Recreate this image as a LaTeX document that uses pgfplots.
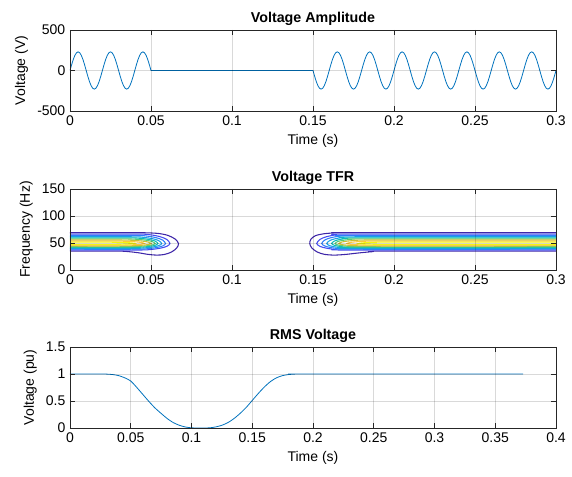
\documentclass[border=0pt]{standalone}
\usepackage{pgfplots}
\pgfplotsset{compat=1.18}
\usepackage{fontspec}
\setmainfont{Liberation Sans}

\definecolor{mline}{rgb}{0,0.447,0.741}
\definecolor{pa}{rgb}{0.2422,0.1504,0.6603}
\definecolor{pb}{rgb}{0.2706,0.3033,0.9415}
\definecolor{pc}{rgb}{0.1829,0.5023,0.9805}
\definecolor{pd}{rgb}{0.10,0.63,0.90}
\definecolor{pe}{rgb}{0.05,0.74,0.72}
\definecolor{pf}{rgb}{0.35,0.80,0.45}
\definecolor{pg}{rgb}{0.80,0.75,0.20}
\definecolor{ph}{rgb}{0.99,0.78,0.23}
\definecolor{pi}{rgb}{0.96,0.96,0.07}

\pgfplotsset{
  matlab/.style={
    scale only axis,
    width=364.5pt, height=60.75pt,
    axis on top,
    axis line style={black!85, line width=0.4pt},
    tick style={black!85, line width=0.4pt},
    major tick length=3.6pt,
    tick align=inside,
    grid=major,
    grid style={black, opacity=0.15, line width=0.4pt},
    tick label style={font=\fontsize{10.5}{12}\selectfont},
    label style={font=\fontsize{10.5}{12}\selectfont},
    title style={font=\fontsize{10.7}{12}\selectfont\bfseries, yshift=-6.2pt},
    /pgf/number format/assume math mode=true,
  },
  cont/.style={line width=0.8pt, smooth, tension=0.5, no marks},
}

\begin{document}
\begin{tikzpicture}
\path[use as bounding box] (0,0) rectangle (429pt,357.75pt);

% --- Voltage amplitude
\begin{axis}[matlab,
  at={(52.5pt,274.5pt)}, anchor=south west,
  xmin=0, xmax=0.3, ymin=-500, ymax=500,
  xtick={0,0.05,0.1,0.15,0.2,0.25,0.3},
  xticklabels={0,0.05,0.1,0.15,0.2,0.25,0.3},
  ytick={-500,0,500}, yticklabels={-500,0,500},
  title={Voltage Amplitude},
  xlabel={Time (s)}, ylabel={Voltage (V)},
]
\addplot[mline, line width=0.6pt, no marks] coordinates {
(0.000,0) (0.001,71.1) (0.002,135.2) (0.003,186.1) (0.004,218.7) (0.005,230) (0.006,218.7) (0.007,186.1) (0.008,135.2) (0.009,71.1)
(0.010,0) (0.011,-71.1) (0.012,-135.2) (0.013,-186.1) (0.014,-218.7) (0.015,-230) (0.016,-218.7) (0.017,-186.1) (0.018,-135.2) (0.019,-71.1)
(0.020,0) (0.021,71.1) (0.022,135.2) (0.023,186.1) (0.024,218.7) (0.025,230) (0.026,218.7) (0.027,186.1) (0.028,135.2) (0.029,71.1)
(0.030,0) (0.031,-71.1) (0.032,-135.2) (0.033,-186.1) (0.034,-218.7) (0.035,-230) (0.036,-218.7) (0.037,-186.1) (0.038,-135.2) (0.039,-71.1)
(0.040,0) (0.041,71.1) (0.042,135.2) (0.043,186.1) (0.044,218.7) (0.045,230) (0.046,218.7) (0.047,186.1) (0.048,135.2) (0.049,71.1)
(0.050,0) (0.150,0)
(0.151,-71.1) (0.152,-135.2) (0.153,-186.1) (0.154,-218.7) (0.155,-230) (0.156,-218.7) (0.157,-186.1) (0.158,-135.2) (0.159,-71.1)
(0.160,0) (0.161,71.1) (0.162,135.2) (0.163,186.1) (0.164,218.7) (0.165,230) (0.166,218.7) (0.167,186.1) (0.168,135.2) (0.169,71.1)
(0.170,0) (0.171,-71.1) (0.172,-135.2) (0.173,-186.1) (0.174,-218.7) (0.175,-230) (0.176,-218.7) (0.177,-186.1) (0.178,-135.2) (0.179,-71.1)
(0.180,0) (0.181,71.1) (0.182,135.2) (0.183,186.1) (0.184,218.7) (0.185,230) (0.186,218.7) (0.187,186.1) (0.188,135.2) (0.189,71.1)
(0.190,0) (0.191,-71.1) (0.192,-135.2) (0.193,-186.1) (0.194,-218.7) (0.195,-230) (0.196,-218.7) (0.197,-186.1) (0.198,-135.2) (0.199,-71.1)
(0.200,0) (0.201,71.1) (0.202,135.2) (0.203,186.1) (0.204,218.7) (0.205,230) (0.206,218.7) (0.207,186.1) (0.208,135.2) (0.209,71.1)
(0.210,0) (0.211,-71.1) (0.212,-135.2) (0.213,-186.1) (0.214,-218.7) (0.215,-230) (0.216,-218.7) (0.217,-186.1) (0.218,-135.2) (0.219,-71.1)
(0.220,0) (0.221,71.1) (0.222,135.2) (0.223,186.1) (0.224,218.7) (0.225,230) (0.226,218.7) (0.227,186.1) (0.228,135.2) (0.229,71.1)
(0.230,0) (0.231,-71.1) (0.232,-135.2) (0.233,-186.1) (0.234,-218.7) (0.235,-230) (0.236,-218.7) (0.237,-186.1) (0.238,-135.2) (0.239,-71.1)
(0.240,0) (0.241,71.1) (0.242,135.2) (0.243,186.1) (0.244,218.7) (0.245,230) (0.246,218.7) (0.247,186.1) (0.248,135.2) (0.249,71.1)
(0.250,0) (0.251,-71.1) (0.252,-135.2) (0.253,-186.1) (0.254,-218.7) (0.255,-230) (0.256,-218.7) (0.257,-186.1) (0.258,-135.2) (0.259,-71.1)
(0.260,0) (0.261,71.1) (0.262,135.2) (0.263,186.1) (0.264,218.7) (0.265,230) (0.266,218.7) (0.267,186.1) (0.268,135.2) (0.269,71.1)
(0.270,0) (0.271,-71.1) (0.272,-135.2) (0.273,-186.1) (0.274,-218.7) (0.275,-230) (0.276,-218.7) (0.277,-186.1) (0.278,-135.2) (0.279,-71.1)
(0.280,0) (0.281,71.1) (0.282,135.2) (0.283,186.1) (0.284,218.7) (0.285,230) (0.286,218.7) (0.287,186.1) (0.288,135.2) (0.289,71.1)
(0.290,0) (0.291,-71.1) (0.292,-135.2) (0.293,-186.1) (0.294,-218.7) (0.295,-230) (0.296,-218.7) (0.297,-186.1) (0.298,-135.2) (0.299,-71.1)
(0.300,0)
};
\end{axis}

% --- Voltage TFR
\begin{axis}[matlab,
  at={(52.5pt,155.25pt)}, anchor=south west,
  xmin=0, xmax=0.3, ymin=0, ymax=150,
  xtick={0,0.05,0.1,0.15,0.2,0.25,0.3},
  xticklabels={0,0.05,0.1,0.15,0.2,0.25,0.3},
  ytick={0,50,100,150}, yticklabels={0,50,100,150},
  title={Voltage TFR},
  xlabel={Time (s)}, ylabel={Frequency (Hz)},
]
% first part of the signal
\addplot[cont, pa] coordinates {(0,69) (0.040,69) (0.048,68.8) (0.055,67.5) (0.0605,64) (0.0648,57.5) (0.067,49) (0.0658,40.5) (0.0625,33) (0.058,28.6) (0.0535,27.6) (0.048,29) (0.042,32) (0.035,34.3) (0.028,35) (0,35)};
\addplot[cont, pb] coordinates {(0,66.5) (0.042,66.5) (0.0499,65.05) (0.0558,61.5) (0.0597,56.63) (0.0617,49) (0.0597,43.77) (0.0558,40.43) (0.0499,38.0) (0.042,37) (0,37)};
\addplot[cont, pc] coordinates {(0,64) (0.040,64) (0.0476,62.76) (0.0533,59.71) (0.0571,55.54) (0.059,49) (0.0571,44.42) (0.0533,41.5) (0.0476,39.37) (0.040,38.5) (0,38.5)};
\addplot[cont, pd] coordinates {(0,61.5) (0.038,61.5) (0.0454,60.46) (0.0510,57.93) (0.0547,54.45) (0.0566,49) (0.0547,45.08) (0.0510,42.57) (0.0454,40.75) (0.038,40) (0,40)};
\addplot[cont, pe] coordinates {(0,59.5) (0.036,59.5) (0.0433,58.63) (0.0488,56.5) (0.0525,53.58) (0.0543,49) (0.0525,45.73) (0.0488,43.65) (0.0433,42.12) (0.036,41.5) (0,41.5)};
\addplot[cont, pf] coordinates {(0,57.5) (0.034,57.5) (0.0414,56.79) (0.0470,55.07) (0.0507,52.71) (0.0525,49) (0.0507,46.38) (0.0470,44.72) (0.0414,43.5) (0.034,43) (0,43)};
\addplot[cont, pg] coordinates {(0,55.5) (0.031,55.5) (0.0386,54.96) (0.0443,53.64) (0.0481,51.83) (0.050,49) (0.0481,47.04) (0.0443,45.79) (0.0386,44.87) (0.031,44.5) (0,44.5)};
\addplot[cont, ph] coordinates {(0,53.5) (0.027,53.5) (0.0346,53.13) (0.0403,52.21) (0.0441,50.96) (0.046,49) (0.0441,47.69) (0.0403,46.86) (0.0346,46.25) (0.027,46) (0,46)};
\addplot[cont, pi] coordinates {(0,51.5) (0.022,51.5) (0.0292,51.29) (0.0346,50.79) (0.0382,50.09) (0.040,49) (0.0382,48.35) (0.0346,47.93) (0.0292,47.62) (0.022,47.5) (0,47.5)};
% second part of the signal
\addplot[cont, pa] coordinates {(0.3,69) (0.172,69) (0.163,68.6) (0.1565,67) (0.1515,63.5) (0.1487,57) (0.148,49) (0.1492,41) (0.1525,33.5) (0.157,29) (0.163,27.6) (0.170,28.8) (0.178,31.5) (0.187,34) (0.196,35) (0.3,35)};
\addplot[cont, pb] coordinates {(0.3,66.5) (0.172,66.5) (0.1641,65.05) (0.1582,61.5) (0.1543,56.63) (0.1523,49) (0.1543,43.77) (0.1582,40.43) (0.1641,38.0) (0.172,37) (0.3,37)};
\addplot[cont, pc] coordinates {(0.3,64) (0.174,64) (0.1666,62.76) (0.1610,59.71) (0.1573,55.54) (0.1554,49) (0.1573,44.42) (0.1610,41.5) (0.1666,39.37) (0.174,38.5) (0.3,38.5)};
\addplot[cont, pd] coordinates {(0.3,61.5) (0.176,61.5) (0.1690,60.46) (0.1638,57.93) (0.1603,54.45) (0.1585,49) (0.1603,45.08) (0.1638,42.57) (0.1690,40.75) (0.176,40) (0.3,40)};
\addplot[cont, pe] coordinates {(0.3,59.5) (0.178,59.5) (0.1714,58.63) (0.1665,56.5) (0.1632,53.58) (0.1615,49) (0.1632,45.73) (0.1665,43.65) (0.1714,42.12) (0.178,41.5) (0.3,41.5)};
\addplot[cont, pf] coordinates {(0.3,57.5) (0.181,57.5) (0.1740,56.79) (0.1688,55.07) (0.1653,52.71) (0.1636,49) (0.1653,46.38) (0.1688,44.72) (0.1740,43.5) (0.181,43) (0.3,43)};
\addplot[cont, pg] coordinates {(0.3,55.5) (0.185,55.5) (0.1774,54.96) (0.1717,53.64) (0.1679,51.83) (0.166,49) (0.1679,47.04) (0.1717,45.79) (0.1774,44.87) (0.185,44.5) (0.3,44.5)};
\addplot[cont, ph] coordinates {(0.3,53.5) (0.190,53.5) (0.1824,53.13) (0.1767,52.21) (0.1729,50.96) (0.171,49) (0.1729,47.69) (0.1767,46.86) (0.1824,46.25) (0.190,46) (0.3,46)};
\addplot[cont, pi] coordinates {(0.3,51.5) (0.197,51.5) (0.1894,51.29) (0.1837,50.79) (0.1799,50.09) (0.178,49) (0.1799,48.35) (0.1837,47.93) (0.1894,47.62) (0.197,47.5) (0.3,47.5)};
\end{axis}

% --- RMS voltage
\begin{axis}[matlab,
  at={(52.5pt,36.75pt)}, anchor=south west,
  xmin=0, xmax=0.4, ymin=0, ymax=1.5,
  xtick={0,0.05,0.1,0.15,0.2,0.25,0.3,0.35,0.4},
  xticklabels={0,0.05,0.1,0.15,0.2,0.25,0.3,0.35,0.4},
  ytick={0,0.5,1,1.5}, yticklabels={0,0.5,1,1.5},
  title={RMS Voltage},
  xlabel={Time (s)}, ylabel={Voltage (pu)},
]
\addplot[mline, line width=0.6pt, smooth, tension=0.4, no marks] coordinates {
(0,1) (0.025,1) (0.03,0.998) (0.035,0.99) (0.04,0.97) (0.045,0.93) (0.05,0.87)
(0.055,0.75) (0.06,0.62) (0.065,0.49) (0.07,0.37) (0.075,0.27) (0.08,0.175)
(0.085,0.10) (0.09,0.05) (0.095,0.018) (0.1,0.003) (0.105,0) (0.11,0) (0.115,0.003)
(0.12,0.02) (0.125,0.05) (0.13,0.10) (0.135,0.175) (0.14,0.27) (0.145,0.38)
(0.15,0.51) (0.155,0.64) (0.16,0.76) (0.165,0.86) (0.17,0.93) (0.175,0.97)
(0.18,0.99) (0.185,0.998) (0.19,1) (0.373,1)
};
\end{axis}
\end{tikzpicture}
\end{document}
